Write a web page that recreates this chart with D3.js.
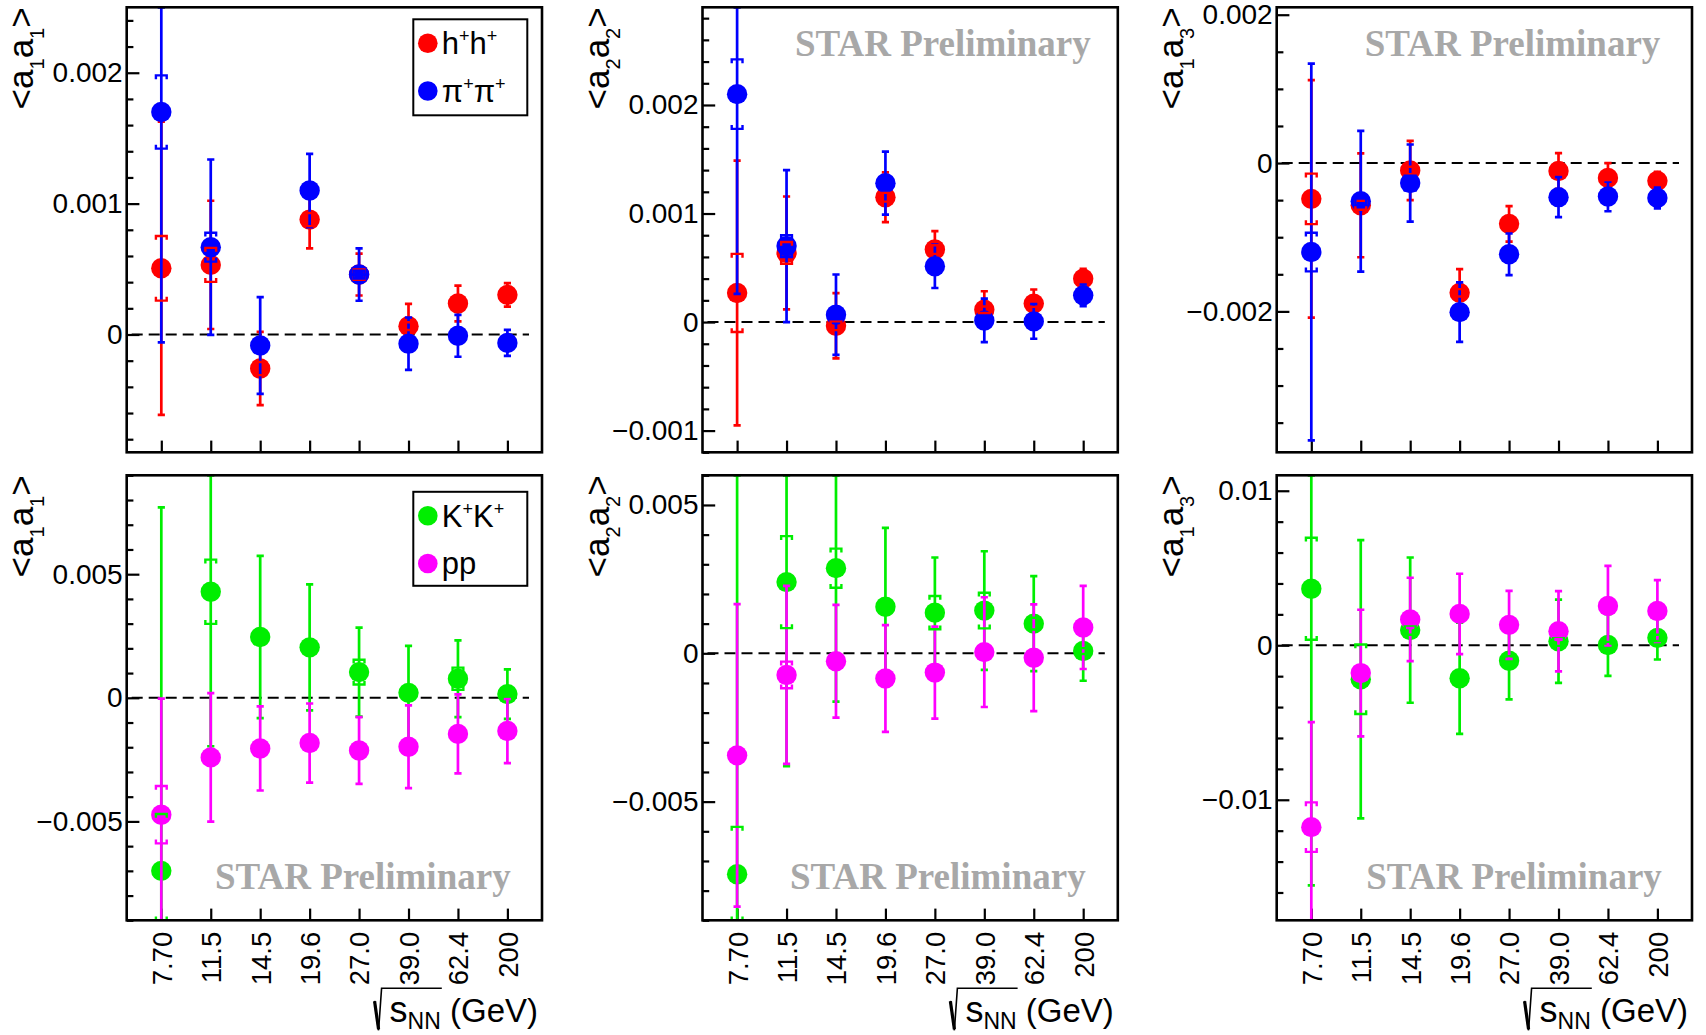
<!DOCTYPE html>
<html>
<head>
<meta charset="utf-8">
<script src="https://cdn.jsdelivr.net/npm/d3@7"></script>
<style>
  body { margin: 0; background: #fff; }
  svg { display: block; }
  text { font-family: "Liberation Sans", Arial, Helvetica, sans-serif; }
</style>
</head>
<body>
<svg id="chart" width="1706" height="1035"></svg>
<script>
// collision energies (category axis)
var energies = ["7.70", "11.5", "14.5", "19.6", "27.0", "39.0", "62.4", "200"];

// <a1a1>, h+h+ and pi+pi+
var hh_a11      = [0.000506, 0.000532, -0.00026, 0.000878, 0.000458, 0.000064, 0.000237, 0.000303];
var hh_a11_stat = [0.00112, 0.00049, 0.00028, 0.00022, 0.00016, 0.00017, 0.000137, 0.00009];
var hh_a11_sys  = [0.000247, 0.00013, 0.00005, 0.00005, 0.00004, 0.00003, 0.00003, 0.00002];
var pipi_a11      = [0.0017, 0.000667, -0.000084, 0.0011, 0.000458, -0.00007, -0.00001, -0.000064];
var pipi_a11_stat = [0.00176, 0.00067, 0.00037, 0.00028, 0.0002, 0.0002, 0.00016, 0.0001];
var pipi_a11_sys  = [0.00028, 0.00011, 0.00004, 0.00004, 0.00003, 0.00003, 0.00002, 0.00002];

// <a2a2>, h+h+ and pi+pi+
var hh_a22      = [0.000268, 0.000637, -0.000034, 0.00115, 0.000668, 0.000114, 0.00017, 0.0004];
var hh_a22_stat = [0.00122, 0.00052, 0.0003, 0.00023, 0.00017, 0.00017, 0.00013, 0.00009];
var hh_a22_sys  = [0.00036, 0.0001, 0.00004, 0.00004, 0.00004, 0.00003, 0.00003, 0.00002];
var pipi_a22      = [0.0021, 0.0007, 0.000068, 0.00128, 0.000514, 0.000015, 0.000006, 0.000246];
var pipi_a22_stat = [0.00184, 0.0007, 0.00037, 0.00029, 0.0002, 0.0002, 0.00016, 0.0001];
var pipi_a22_sys  = [0.00032, 0.0001, 0.00004, 0.00004, 0.00003, 0.00003, 0.00002, 0.00002];

// <a1a3>, h+h+ and pi+pi+
var hh_a13      = [-0.000483, -0.00057, -0.0001, -0.00175, -0.00082, -0.000107, -0.0002, -0.00024];
var hh_a13_stat = [0.0016, 0.0007, 0.0004, 0.00032, 0.00024, 0.00024, 0.0002, 0.00012];
var hh_a13_sys  = [0.00034, 0.00006, 0.00005, 0.00005, 0.00004, 0.00004, 0.00003, 0.00003];
var pipi_a13      = [-0.0012, -0.000515, -0.00027, -0.00201, -0.00123, -0.00046, -0.00045, -0.00047];
var pipi_a13_stat = [0.00254, 0.00095, 0.00052, 0.0004, 0.00028, 0.00027, 0.0002, 0.00014];
var pipi_a13_sys  = [0.00026, 0.00005, 0.0001, 0.00005, 0.00004, 0.00004, 0.00003, 0.00003];

// <a1a1>, K+K+ and pp
var kk_a11      = [-0.007, 0.00429, 0.00246, 0.00204, 0.00104, 0.0002, 0.00077, 0.00015];
var kk_a11_stat = [0.0147, 0.00625, 0.00328, 0.00255, 0.0018, 0.0019, 0.00155, 0.001];
var kk_a11_sys  = [0.0023, 0.0013, 0.0002, 0.0002, 0.0005, 0.0002, 0.00045, 0.0001];
var pp_a11      = [-0.00473, -0.00241, -0.00205, -0.00183, -0.00213, -0.00198, -0.00146, -0.00134];
var pp_a11_stat = [0.0047, 0.0026, 0.0017, 0.0016, 0.00135, 0.00167, 0.0016, 0.0013];
var pp_a11_sys  = [0.00116, 0.0002, 0.0002, 0.0002, 0.0002, 0.0002, 0.0002, 0.0001];

// <a2a2>, K+K+ and pp
var kk_a22      = [-0.00745, 0.0024, 0.00287, 0.00157, 0.00137, 0.00144, 0.001, 0.000075];
var kk_a22_stat = [0.0145, 0.0062, 0.0045, 0.00266, 0.00186, 0.002, 0.0016, 0.001];
var kk_a22_sys  = [0.0016, 0.00155, 0.00066, 0.0002, 0.00056, 0.0006, 0.0002, 0.0001];
var pp_a22      = [-0.00344, -0.00073, -0.00027, -0.00085, -0.00065, 0.00004, -0.00015, 0.00087];
var pp_a22_stat = [0.0051, 0.003, 0.0019, 0.0018, 0.00155, 0.00185, 0.0018, 0.0014];
var pp_a22_sys  = [0.0002, 0.00045, 0.0002, 0.0002, 0.0002, 0.0002, 0.0002, 0.0001];

// <a1a3>, K+K+ and pp
var kk_a13      = [0.00366, -0.0022, 0.00098, -0.00213, -0.001, 0.00026, 0.00002, 0.00048];
var kk_a13_stat = [0.0192, 0.009, 0.0047, 0.0036, 0.0025, 0.0027, 0.002, 0.0014];
var kk_a13_sys  = [0.0033, 0.00225, 0.0003, 0.0003, 0.0003, 0.0003, 0.0002, 0.0002];
var pp_a13      = [-0.01177, -0.0018, 0.00167, 0.00203, 0.00132, 0.00091, 0.00254, 0.00222];
var pp_a13_stat = [0.0068, 0.0041, 0.0027, 0.0026, 0.0022, 0.0026, 0.0026, 0.002];
var pp_a13_sys  = [0.0016, 0.0003, 0.0003, 0.0003, 0.0003, 0.0003, 0.0003, 0.0003];

// species: legend label parts [text, superscript?]
var hh   = { color: "#ff0000", label: [["h", 0], ["+", 1], ["h", 0], ["+", 1]] };
var pipi = { color: "#0000ff", label: [["\u03c0", 0], ["+", 1], ["\u03c0", 0], ["+", 1]] };
var kk   = { color: "#00ee00", label: [["K", 0], ["+", 1], ["K", 0], ["+", 1]] };
var pp   = { color: "#ff00ff", label: [["pp", 0]] };

//Panel grid
var colLeft = [126.7, 702.5, 1276.7];
var rowTop = [7.3, 475.3];
var frameW = 415.3;
var frameH = 445;

var panels = [
  { row: 0, col: 0, yDomain: [-0.0009, 0.0025], major: 0.001, minor: 0.0002, idx: ["1", "1"],
    series: [[hh, hh_a11, hh_a11_stat, hh_a11_sys], [pipi, pipi_a11, pipi_a11_stat, pipi_a11_sys]],
    legend: { y: 12, h: 96 } },
  { row: 0, col: 1, yDomain: [-0.0012, 0.0029], major: 0.001, minor: 0.0002, idx: ["2", "2"],
    series: [[hh, hh_a22, hh_a22_stat, hh_a22_sys], [pipi, pipi_a22, pipi_a22_stat, pipi_a22_sys]],
    star: { x: 92.5, y: 48.5 } },
  { row: 0, col: 2, yDomain: [-0.0039, 0.0021], major: 0.002, minor: 0.0005, idx: ["1", "3"],
    series: [[hh, hh_a13, hh_a13_stat, hh_a13_sys], [pipi, pipi_a13, pipi_a13_stat, pipi_a13_sys]],
    star: { x: 88, y: 48.5 } },
  { row: 1, col: 0, yDomain: [-0.009, 0.009], major: 0.005, minor: 0.001, idx: ["1", "1"],
    series: [[kk, kk_a11, kk_a11_stat, kk_a11_sys], [pp, pp_a11, pp_a11_stat, pp_a11_sys]],
    legend: { y: 16.5, h: 94 }, star: { x: 88.3, y: 414 } },
  { row: 1, col: 1, yDomain: [-0.009, 0.006], major: 0.005, minor: 0.001, idx: ["2", "2"],
    series: [[kk, kk_a22, kk_a22_stat, kk_a22_sys], [pp, pp_a22, pp_a22_stat, pp_a22_sys]],
    star: { x: 87.5, y: 414 } },
  { row: 1, col: 2, yDomain: [-0.0178, 0.011], major: 0.01, minor: 0.002, idx: ["1", "3"],
    series: [[kk, kk_a13, kk_a13_stat, kk_a13_sys], [pp, pp_a13, pp_a13_stat, pp_a13_sys]],
    star: { x: 89.5, y: 414 } }
];

var svg = d3.select("#chart");
var fmt = d3.format("~g");

var stepTicks = function(lo, hi, step) {
  return d3.range(Math.ceil(lo / step - 1e-9), Math.floor(hi / step + 1e-9) + 1)
    .map(function(i) { return +(i * step).toPrecision(10); });
};

panels.forEach(function(p, pi) {
  var g = svg.append("g")
    .attr("transform", "translate(" + colLeft[p.col] + "," + rowTop[p.row] + ")");

  //Scales
  var x = d3.scalePoint().domain(energies).range([0, frameW]).padding(0.7);
  var y = d3.scaleLinear().domain(p.yDomain).range([frameH, 0]);
  var clampY = function(v) { return y(Math.max(p.yDomain[0], Math.min(p.yDomain[1], v))); };

  var majors = stepTicks(p.yDomain[0], p.yDomain[1], p.major);
  var minors = stepTicks(p.yDomain[0], p.yDomain[1], p.minor).filter(function(v) {
    var r = v / p.major;
    return Math.abs(r - Math.round(r)) > 1e-6;
  });

  //Y axis: ticks drawn inside the frame
  var yAxis = g.append("g")
    .attr("class", "y axis")
    .call(d3.axisLeft(y).tickValues(majors).tickSize(-12.7).tickPadding(4).tickFormat(fmt));
  yAxis.select(".domain").remove();
  yAxis.selectAll("line").attr("stroke", "#000").attr("stroke-width", 2.2);
  yAxis.selectAll("text")
    .attr("font-size", 28)
    .attr("fill", "#000")
    .style("font-family", "'Liberation Sans', Arial, sans-serif");

  var yMinor = g.append("g")
    .call(d3.axisLeft(y).tickValues(minors).tickSize(-6.7).tickFormat(""));
  yMinor.select(".domain").remove();
  yMinor.selectAll("line").attr("stroke", "#000").attr("stroke-width", 2.2);

  //X axis
  var xAxis = g.append("g")
    .attr("class", "x axis")
    .attr("transform", "translate(0," + frameH + ")")
    .call(d3.axisBottom(x).tickSize(-11.7));
  xAxis.select(".domain").remove();
  xAxis.selectAll("line").attr("stroke", "#000").attr("stroke-width", 2.2);
  if (p.row === 1) {
    xAxis.selectAll("text")
      .attr("transform", "rotate(-90)")
      .attr("text-anchor", "end")
      .attr("x", -11.5)
      .attr("y", 0)
      .attr("dy", "0.36em")
      .attr("font-size", 27.5)
      .attr("fill", "#000")
      .style("font-family", "'Liberation Sans', Arial, sans-serif");
  } else {
    xAxis.selectAll("text").remove();
  }

  //Zero line
  g.append("line")
    .attr("x1", 5).attr("x2", frameW - 13)
    .attr("y1", y(0)).attr("y2", y(0))
    .attr("stroke", "#000")
    .attr("stroke-width", 2)
    .attr("stroke-dasharray", "11,6");

  //Data, clipped to the frame
  g.append("clipPath").attr("id", "clip" + pi)
    .append("rect").attr("width", frameW).attr("height", frameH);
  var plot = g.append("g").attr("clip-path", "url(#clip" + pi + ")");

  var rows = p.series.map(function(s) {
    return energies.map(function(e, i) {
      return { e: e, v: s[1][i], stat: s[2][i], sys: s[3][i], color: s[0].color };
    });
  });

  rows.forEach(function(pts) {
    var sg = plot.append("g");
    sg.selectAll(".stat")
      .data(pts)
      .enter()
      .append("path")
      .attr("class", "stat")
      .attr("fill", "none")
      .attr("stroke", function(d) { return d.color; })
      .attr("stroke-width", 2.7)
      .attr("d", function(d) {
        var cx = x(d.e), y1 = clampY(d.v + d.stat), y2 = clampY(d.v - d.stat);
        return "M" + cx + "," + y1 + "V" + y2 +
          "M" + (cx - 3.6) + "," + y1 + "H" + (cx + 3.6) +
          "M" + (cx - 3.6) + "," + y2 + "H" + (cx + 3.6);
      });
    sg.selectAll("circle")
      .data(pts)
      .enter()
      .append("circle")
      .attr("cx", function(d) { return x(d.e); })
      .attr("cy", function(d) { return y(d.v); })
      .attr("r", 10.2)
      .attr("fill", function(d) { return d.color; });
  });

  //Systematic brackets on top
  rows.forEach(function(pts) {
    plot.append("g").selectAll("path")
      .data(pts)
      .enter()
      .append("path")
      .attr("fill", "none")
      .attr("stroke", function(d) { return d.color; })
      .attr("stroke-width", 2.4)
      .attr("d", function(d) {
        var cx = x(d.e), y1 = clampY(d.v + d.sys), y2 = clampY(d.v - d.sys), w = 5.4, t = 3.8;
        return "M" + (cx - w) + "," + (y1 + t) + "V" + y1 + "H" + (cx + w) + "V" + (y1 + t) +
          "M" + (cx - w) + "," + (y2 - t) + "V" + y2 + "H" + (cx + w) + "V" + (y2 - t);
      });
  });

  //Frame
  g.append("rect")
    .attr("width", frameW).attr("height", frameH)
    .attr("fill", "none")
    .attr("stroke", "#000")
    .attr("stroke-width", 2.6);

  //Y axis title <a_i a_j>
  var ylab = g.append("text")
    .attr("transform", "translate(-93.7,0) rotate(-90)")
    .attr("text-anchor", "end")
    .attr("font-size", 35)
    .attr("fill", "#000");
  ylab.append("tspan").text("<a");
  ylab.append("tspan").attr("dy", 11).attr("font-size", 20).text(p.idx[0]);
  ylab.append("tspan").attr("dy", -11).text("a");
  ylab.append("tspan").attr("dy", 11).attr("font-size", 20).text(p.idx[1]);
  ylab.append("tspan").attr("dy", -11).text(">");

  //X axis title on the bottom row
  if (p.row === 1) {
    var xt = g.append("text")
      .attr("x", frameW - 4)
      .attr("y", 546.5)
      .attr("text-anchor", "end")
      .attr("font-size", 33)
      .attr("fill", "#000");
    xt.append("tspan").attr("font-size", 36).text("s");
    xt.append("tspan").attr("dy", 7).attr("font-size", 23).text("NN");
    xt.append("tspan").attr("dy", -7).text(" (GeV)");
    var total = xt.node().getComputedTextLength();
    var sx = frameW - 4 - total;
    var ex = sx + xt.node().getSubStringLength(0, 3);
    g.append("path")
      .attr("fill", "none")
      .attr("stroke", "#000")
      .attr("stroke-width", 1.6)
      .attr("d", "M" + (sx - 15) + ",525.5L" + (sx - 11) + ",555L" + (sx - 8) + ",513H" + (ex + 1));
    g.append("path")
      .attr("fill", "none")
      .attr("stroke", "#000")
      .attr("stroke-width", 3.2)
      .attr("d", "M" + (sx - 15) + ",526L" + (sx - 11) + ",554");
  }

  //STAR Preliminary
  if (p.star) {
    g.append("text")
      .attr("x", p.star.x)
      .attr("y", p.star.y)
      .attr("font-size", 37)
      .attr("font-weight", "bold")
      .attr("fill", "#a8a8a8")
      .style("font-family", "'Liberation Serif', 'Times New Roman', serif")
      .text("STAR Preliminary");
  }

  //Legend
  if (p.legend) {
    var lg = g.append("g").attr("transform", "translate(286.6," + p.legend.y + ")");
    lg.append("rect")
      .attr("width", 114).attr("height", p.legend.h)
      .attr("fill", "#fff")
      .attr("stroke", "#000")
      .attr("stroke-width", 2);
    p.series.forEach(function(s, i) {
      var ey = 24 + i * 47.7;
      lg.append("circle")
        .attr("cx", 14.5).attr("cy", ey).attr("r", 9.8)
        .attr("fill", s[0].color);
      var t = lg.append("text")
        .attr("x", 28.5).attr("y", ey + 11)
        .attr("font-size", 31)
        .attr("fill", "#000");
      var up = false;
      s[0].label.forEach(function(part) {
        var ts = t.append("tspan").text(part[0]);
        if (part[1] && !up) { ts.attr("dy", -12).attr("font-size", 18); up = true; }
        else if (!part[1] && up) { ts.attr("dy", 12); up = false; }
      });
    });
  }
});
</script>
</body>
</html>
